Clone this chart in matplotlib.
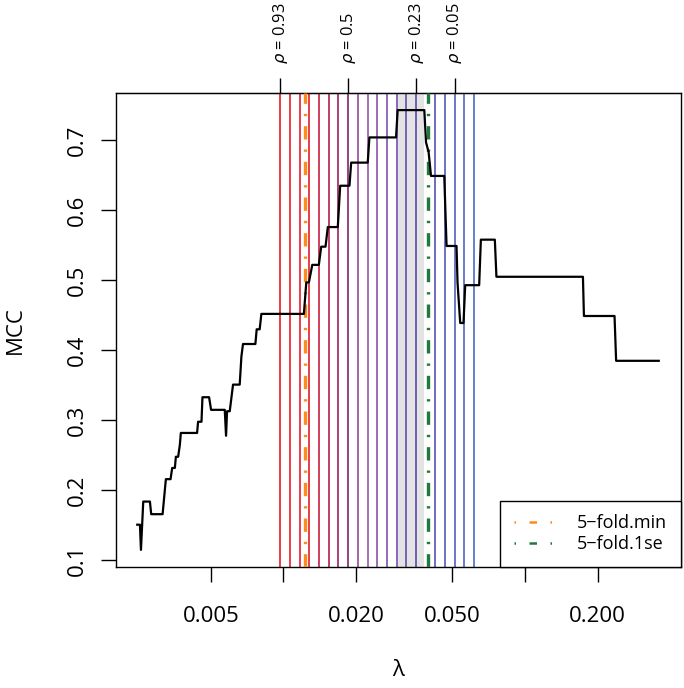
import matplotlib
matplotlib.use("Agg")
import matplotlib.pyplot as plt
from matplotlib.colors import LinearSegmentedColormap
from matplotlib.lines import Line2D
from matplotlib.ticker import NullLocator

plt.rcParams['font.family'] = ['Open Sans', 'DejaVu Sans']

# MCC along the lambda path
lam = [0.002480, 0.002544, 0.002569, 0.002626, 0.002798, 0.002833, 0.003158,
       0.003258, 0.003407, 0.003460, 0.003550, 0.003584, 0.003663, 0.003723,
       0.003758, 0.004388, 0.004430, 0.004576, 0.004619, 0.004920, 0.005014,
       0.005713, 0.005784, 0.005840, 0.005991, 0.006182, 0.006588, 0.006695,
       0.006798, 0.007651, 0.007746, 0.007970, 0.008100, 0.012152, 0.012432,
       0.012744, 0.013163, 0.014012, 0.014336, 0.014934, 0.015264, 0.016788,
       0.017176, 0.018766, 0.019072, 0.022334, 0.022699, 0.029262, 0.029711,
       0.038316, 0.038941, 0.039917, 0.040839, 0.046345, 0.047370, 0.052090,
       0.052588, 0.053955, 0.055677, 0.056585, 0.064646, 0.065701, 0.075063,
       0.076212, 0.17390, 0.17556, 0.23505, 0.23866, 0.35838]
mcc = [0.151, 0.151, 0.115, 0.184, 0.184, 0.166, 0.166,
       0.216, 0.216, 0.232, 0.232, 0.248, 0.248, 0.265,
       0.282, 0.282, 0.298, 0.298, 0.333, 0.333, 0.315,
       0.315, 0.278, 0.313, 0.313, 0.351, 0.351, 0.391,
       0.409, 0.409, 0.430, 0.430, 0.452, 0.452, 0.497,
       0.497, 0.522, 0.522, 0.548, 0.548, 0.576, 0.576,
       0.635, 0.635, 0.668, 0.668, 0.704, 0.704, 0.743,
       0.743, 0.697, 0.683, 0.649, 0.649, 0.549, 0.549,
       0.497, 0.439, 0.439, 0.493, 0.493, 0.558, 0.558,
       0.505, 0.505, 0.449, 0.449, 0.385, 0.385]

# lambdas marked by the coloured vertical lines (index along the palette)
path_idx = [0, 1, 2, 3, 4, 5, 6, 7, 8, 9, 10, 11, 12, 13, 14, 16, 17, 18, 19, 20]
path_lam = [0.009705, 0.010645, 0.011675, 0.012806, 0.014046, 0.015406, 0.016898,
            0.018534, 0.020329, 0.022298, 0.024457, 0.026826, 0.029423, 0.032273,
            0.035398, 0.042588, 0.046712, 0.051236, 0.056199, 0.061641]

rho_lam = [0.009705, 0.018534, 0.035398, 0.051236]
rho_txt = ["0.93", "0.5", "0.23", "0.05"]

lam_min = 0.012279
lam_1se = 0.039651

x_ticks = [0.005, 0.01, 0.02, 0.05, 0.1, 0.2]
x_ticklabels = ["0.005", "", "0.020", "0.050", "", "0.200"]
y_ticks = [0.1, 0.2, 0.3, 0.4, 0.5, 0.6, 0.7]

fig = plt.figure(figsize=(6.84, 6.88), dpi=100)
ax = fig.add_axes([116 / 684, 1 - 566.7 / 688, (680.7 - 116) / 684, (566.7 - 93.3) / 688])
ax.set_xscale('log')
ax.set_xlim(0.002025, 0.4418)
ax.set_ylim(0.091, 0.767)

# shade the lambda range where MCC is at its maximum
best = max(mcc)
idx_best = [i for i, v in enumerate(mcc) if v == best]
ax.axvspan(lam[idx_best[0]], lam[idx_best[-1]], color='#E3E3E3', lw=0, zorder=1)

cmap = LinearSegmentedColormap.from_list(
    'path', [(0.0, '#EA1C24'), (0.15, '#E21C2E'), (0.35, '#86206E'),
             (0.42, '#A257B0'), (0.7, '#5848AE'), (1.0, '#4D6CC2')])
for k, l in zip(path_idx, path_lam):
    ax.axvline(l, color=cmap(k / 20), lw=1.2, zorder=2)

dotdash = (0, (4, 3, 0.7, 3))
ax.axvline(lam_min, color='#FF8C1A', lw=2.4, ls=dotdash, zorder=3)
ax.axvline(lam_1se, color='#1F7A3C', lw=2.4, ls=dotdash, zorder=3)

ax.plot(lam, mcc, color='black', lw=1.6, zorder=4)

# axes
ax.set_xticks(x_ticks)
ax.set_xticklabels(x_ticklabels)
ax.xaxis.set_minor_locator(NullLocator())
ax.set_yticks(y_ticks)
ax.tick_params(length=11, width=1.0, labelsize=16, colors='black')
ax.tick_params(axis='x', pad=17)
ax.tick_params(axis='y', pad=9)
plt.setp(ax.get_yticklabels(), rotation=90, va='center')
for s in ax.spines.values():
    s.set_linewidth(1.0)

sec = ax.secondary_xaxis('top')
sec.set_xticks(rho_lam)
sec.set_xticklabels([r'$\rho$ = ' + t for t in rho_txt], fontsize=11.8, rotation=90)
sec.xaxis.set_minor_locator(NullLocator())
sec.tick_params(length=11, width=1.0, pad=10)

fig.text(15 / 684, 1 - 330 / 688, 'MCC', rotation=90, ha='center', va='center', fontsize=16)
fig.text(398 / 684, 1 - 671 / 688, 'λ', ha='center', va='center', fontsize=16)

leg_ls = (0, (0.6, 5.4, 3, 5.4))
handles = [Line2D([], [], color='#FF8C1A', lw=1.8, ls=leg_ls),
           Line2D([], [], color='#1F7A3C', lw=1.8, ls=leg_ls)]
leg = ax.legend(handles, ['5−fold.min', '5−fold.1se'], loc='lower right',
                bbox_to_anchor=(1, 0), borderaxespad=0, fancybox=False,
                edgecolor='black', framealpha=1, fontsize=13, handlelength=2.4,
                handletextpad=1.1, borderpad=0.75, labelspacing=0.15)
leg.get_frame().set_linewidth(1.0)
leg.set_zorder(5)

fig.savefig('out.png', dpi=100)
